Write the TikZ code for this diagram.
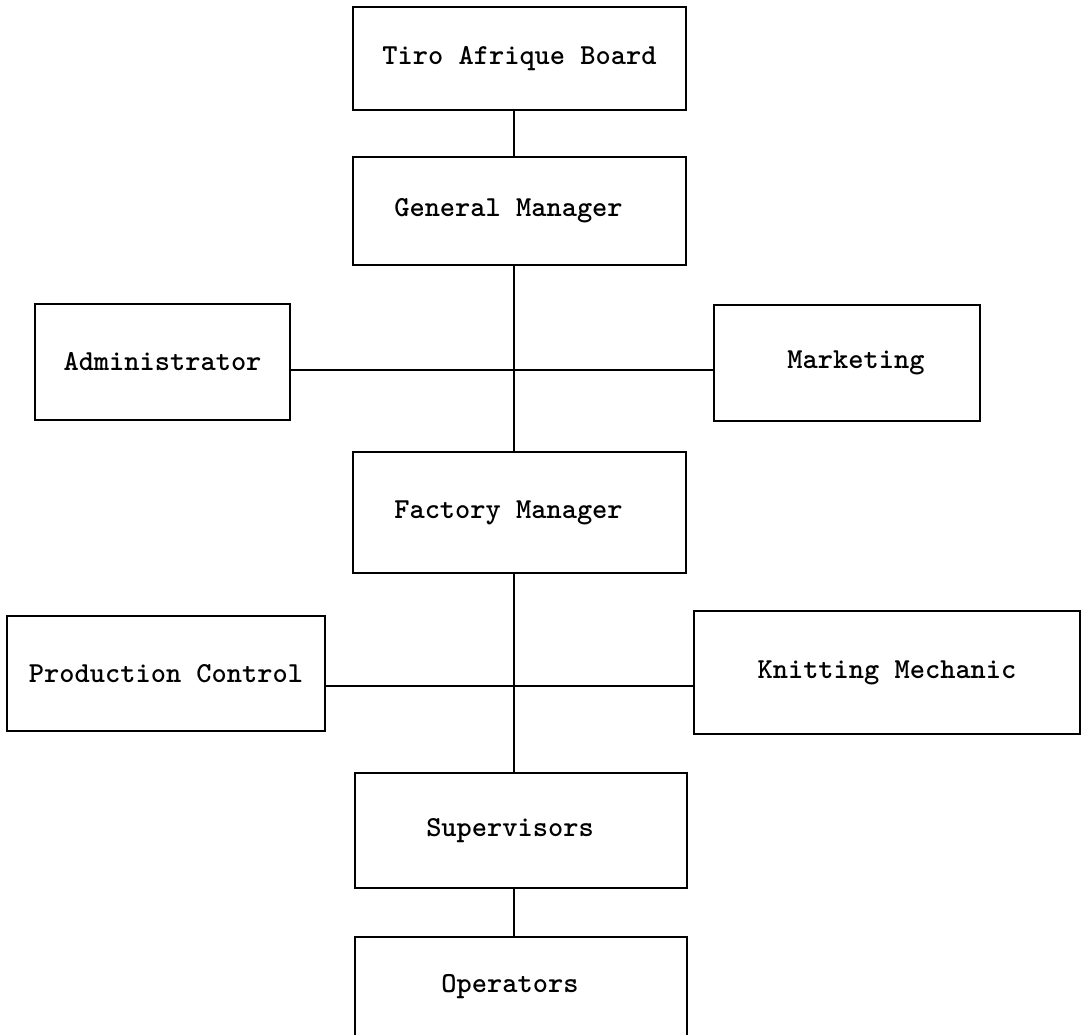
\documentclass[tikz,border=0pt]{standalone}
\begin{document}
\begin{tikzpicture}[x=0.5pt,y=-0.5pt,
    post/.style={draw,line width=1.2pt,rectangle,inner sep=0pt,font=\fontsize{14.5}{17}\selectfont\ttfamily\bfseries},
    link/.style={line width=1.2pt}]
    \clip (0,0) rectangle (1082,1034);
    %% Board and general manager
    \node[post,minimum width=166.5pt,minimum height=51.5pt] (board) at (519.5,58.5) {Tiro Afrique Board};
    \node[post,minimum width=166.5pt,minimum height=54pt] (gm) at (519.5,211) {General Manager\hspace*{11pt}};
    %% Staff beside the general manager
    \node[post,minimum width=127.5pt,minimum height=58pt] (admin) at (162.5,362) {Administrator};
    \node[post,minimum width=133pt,minimum height=58pt] (mkt) at (847,363) {\hspace*{9pt}Marketing};
    %% Factory
    \node[post,minimum width=166.5pt,minimum height=60.5pt] (fm) at (519.5,512.5) {Factory Manager\hspace*{11pt}};
    \node[post,minimum width=159pt,minimum height=57.5pt] (pc) at (166,673.5) {Production Control};
    \node[post,minimum width=193pt,minimum height=61.5pt] (km) at (887,672.5) {Knitting Mechanic};
    %% Shop floor
    \node[post,minimum width=166pt,minimum height=57.5pt] (sup) at (521,830.5) {Supervisors\hspace*{11pt}};
    \node[post,minimum width=166pt,minimum height=50pt] (op) at (521,987) {Operators\hspace*{11pt}};
    %% Lines
    \coordinate (spine) at (514,0);
    \coordinate (staffrow) at (0,370);
    \coordinate (floorrow) at (0,686);
    \draw[link] (board.south -| spine) -- (gm.north -| spine);
    \draw[link] (gm.south -| spine) -- (fm.north -| spine);
    \draw[link] (admin.east |- staffrow) -- (mkt.west |- staffrow);
    \draw[link] (fm.south -| spine) -- (sup.north -| spine);
    \draw[link] (pc.east |- floorrow) -- (km.west |- floorrow);
    \draw[link] (sup.south -| spine) -- (op.north -| spine);
\end{tikzpicture}
\end{document}
